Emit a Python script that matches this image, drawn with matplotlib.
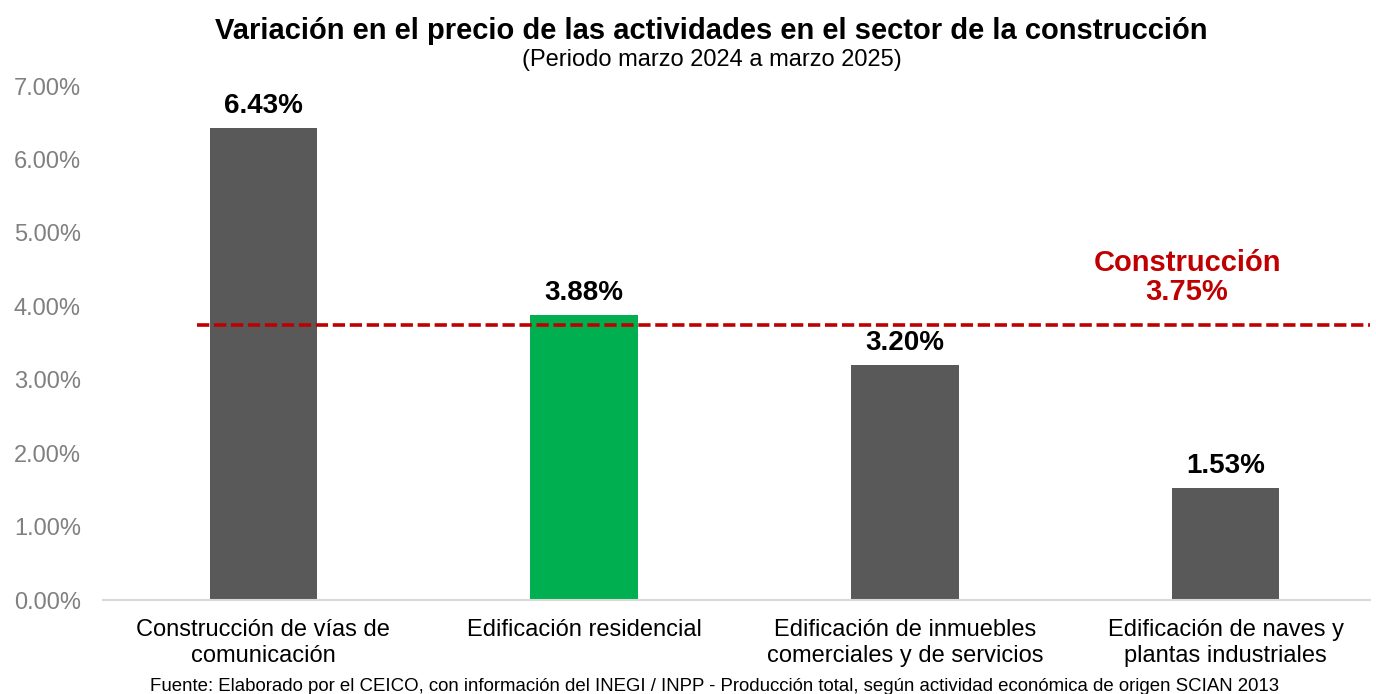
import matplotlib
matplotlib.use("Agg")
import matplotlib.pyplot as plt
from matplotlib.ticker import FuncFormatter

plt.rcParams['font.family'] = ['Liberation Sans', 'DejaVu Sans']

categorias = ["Construcción de vías de\ncomunicación", "Edificación residencial",
              "Edificación de inmuebles\ncomerciales y de servicios",
              "Edificación de naves y\nplantas industriales"]
valores = [6.43, 3.88, 3.20, 1.53]
colores = ["#595959", "#00B050", "#595959", "#595959"]
construccion = 3.75

fig = plt.figure(figsize=(13.76, 6.94), dpi=100)
ax = fig.add_axes([0.0749, 0.1354, 0.9207, 0.7406])

x = list(range(len(valores)))
ax.bar(x, valores, width=0.336, color=colores, zorder=2)
for xi, v in zip(x, valores):
    ax.text(xi, v + 0.12, f"{v:.2f}%", ha="center", va="bottom",
            fontsize=20, fontweight="bold", color="black")

# linea de referencia del sector
ax.axhline(construccion, xmin=0.074, xmax=1.0, color="#C00000", lw=2.6,
           ls=(0, (3.4, 1.3)), zorder=3)
ax.text(2.88, construccion + 0.25, f"Construcción\n{construccion:.2f}%", ha="center",
        va="bottom", fontsize=21, fontweight="bold", color="#C00000", linespacing=1.05)

ax.set_xlim(-0.5, 3.45)
ax.set_ylim(0, 7)
ax.set_yticks([0, 1, 2, 3, 4, 5, 6, 7])
ax.yaxis.set_major_formatter(FuncFormatter(lambda v, p: f"{v:.2f}%"))
ax.set_xticks(x)
ax.set_xticklabels(categorias, fontsize=17, linespacing=1.2)
ax.tick_params(axis="y", labelsize=17, labelcolor="#808080", length=0, pad=16)
ax.tick_params(axis="x", length=0, pad=14)
for s in ["top", "right", "left"]:
    ax.spines[s].set_visible(False)
ax.spines["bottom"].set_color("#D9D9D9")
ax.spines["bottom"].set_linewidth(1.5)

fig.text(0.517, 0.956, "Variación en el precio de las actividades en el sector de la construcción",
         ha="center", va="center", fontsize=21, fontweight="bold")
fig.text(0.517, 0.913, "(Periodo marzo 2024 a marzo 2025)", ha="center", va="center", fontsize=17)
fig.text(0.519, -0.001, "Fuente: Elaborado por el CEICO, con información del INEGI / INPP - Producción total, según actividad económica de origen SCIAN 2013",
         ha="center", va="bottom", fontsize=13.4)

fig.savefig("out.png", dpi=100)
